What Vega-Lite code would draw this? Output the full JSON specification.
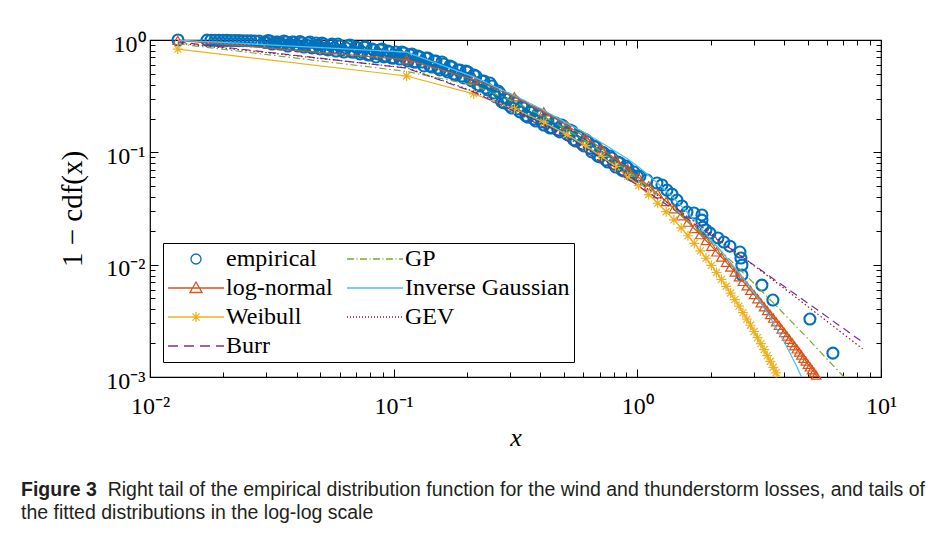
{
  "$schema": "https://vega.github.io/schema/vega-lite/v6.json",
  "width": 731,
  "height": 337,
  "autosize": {"type": "none"},
  "padding": {"left": 150, "top": 40, "right": 71, "bottom": 158},
  "background": "white",
  "title": {
    "text": "Figure 3",
    "subtitle": [
      "\u200b\u00a0\u00a0\u00a0\u00a0\u00a0\u00a0\u00a0\u00a0\u00a0\u00a0\u00a0\u00a0\u00a0\u00a0\u00a0\u00a0Right tail of the empirical distribution function for the wind and thunderstorm losses, and tails of",
      "the fitted distributions in the log-log scale"
    ],
    "orient": "bottom",
    "anchor": "start",
    "frame": "group",
    "dx": -129,
    "offset": 31,
    "font": "Liberation Sans",
    "fontSize": 19.5,
    "fontWeight": "bold",
    "color": "#231f20",
    "subtitleFont": "Liberation Sans",
    "subtitleFontSize": 19.5,
    "subtitleFontWeight": "normal",
    "subtitleColor": "#231f20",
    "subtitlePadding": -19.5,
    "subtitleLineHeight": 23
  },
  "datasets": {
    "emp": [
      {"x":0.01303,"y":1.0},
      {"x":0.01714,"y":0.997},{"x":0.0178,"y":0.996},{"x":0.01849,"y":0.995},{"x":0.0192,"y":0.994},{"x":0.01994,"y":0.993},{"x":0.0207,"y":0.992},{"x":0.0215,"y":0.99},{"x":0.02233,"y":0.989},{"x":0.02319,"y":0.988},{"x":0.02408,"y":0.986},{"x":0.02501,"y":0.985},{"x":0.02597,"y":0.983},{"x":0.02697,"y":0.981},{"x":0.02801,"y":0.979},
      {"x":0.02993,"y":0.95},{"x":0.03108,"y":0.98},{"x":0.03228,"y":0.94},{"x":0.03352,"y":0.96},{"x":0.03481,"y":0.921},{"x":0.03615,"y":0.96},{"x":0.03754,"y":0.921},{"x":0.03899,"y":0.96},{"x":0.04049,"y":0.884},{"x":0.04205,"y":0.94},
      {"x":0.04367,"y":0.903},{"x":0.04535,"y":0.96},{"x":0.0471,"y":0.866},{"x":0.04891,"y":0.903},{"x":0.05079,"y":0.94},{"x":0.05275,"y":0.832},{"x":0.05478,"y":0.903},{"x":0.05689,"y":0.849},{"x":0.05908,"y":0.921},{"x":0.06135,"y":0.815},
      {"x":0.06372,"y":0.849},{"x":0.06617,"y":0.903},{"x":0.06872,"y":0.782},{"x":0.07136,"y":0.849},{"x":0.07411,"y":0.782},{"x":0.07697,"y":0.866},{"x":0.07993,"y":0.736},{"x":0.08301,"y":0.815},{"x":0.08621,"y":0.751},{"x":0.08953,"y":0.832},
      {"x":0.09298,"y":0.72},{"x":0.09656,"y":0.782},{"x":0.10028,"y":0.691},{"x":0.10414,"y":0.736},{"x":0.10815,"y":0.782},{"x":0.11231,"y":0.677},{"x":0.11664,"y":0.736},{"x":0.12113,"y":0.637},{"x":0.12579,"y":0.72},{"x":0.13064,"y":0.637},
      {"x":0.13567,"y":0.691},{"x":0.14089,"y":0.587},{"x":0.14632,"y":0.65},{"x":0.15195,"y":0.563},{"x":0.1578,"y":0.637},{"x":0.16388,"y":0.541},{"x":0.17019,"y":0.587},{"x":0.17674,"y":0.498},{"x":0.18355,"y":0.541},{"x":0.19062,"y":0.478},
      {"x":0.19796,"y":0.53},{"x":0.20558,"y":0.459},{"x":0.2135,"y":0.488},{"x":0.22172,"y":0.398},{"x":0.23026,"y":0.432},{"x":0.23912,"y":0.374},{"x":0.24833,"y":0.414},{"x":0.25789,"y":0.337},{"x":0.26782,"y":0.352},{"x":0.27814,"y":0.281},
      {"x":0.28885,"y":0.298},{"x":0.29997,"y":0.258},{"x":0.31152,"y":0.286},{"x":0.32352,"y":0.243},{"x":0.33598,"y":0.258},{"x":0.34891,"y":0.211},{"x":0.36235,"y":0.229},{"x":0.3763,"y":0.198},{"x":0.39079,"y":0.219},{"x":0.40584,"y":0.186},
      {"x":0.42147,"y":0.198},{"x":0.4377,"y":0.165},{"x":0.45455,"y":0.182},{"x":0.47206,"y":0.158},{"x":0.49023,"y":0.175},{"x":0.50911,"y":0.149},{"x":0.52872,"y":0.158},{"x":0.54908,"y":0.129},{"x":0.57022,"y":0.14},{"x":0.59218,"y":0.119},
      {"x":0.61498,"y":0.129},{"x":0.63866,"y":0.109},{"x":0.66325,"y":0.114},{"x":0.68879,"y":0.0927},{"x":0.71532,"y":0.1007},{"x":0.74286,"y":0.0854},{"x":0.77147,"y":0.0927},{"x":0.80117,"y":0.0787},{"x":0.83202,"y":0.082},{"x":0.86406,"y":0.0696},
      {"x":0.89734,"y":0.0755},{"x":0.93189,"y":0.0641},{"x":0.96778,"y":0.0668},
      {"x":0.02937,"y":0.96},{"x":0.0305,"y":0.99},{"x":0.03167,"y":0.921},{"x":0.03289,"y":0.96},{"x":0.03416,"y":0.921},{"x":0.03547,"y":0.98},{"x":0.03684,"y":0.884},{"x":0.03826,"y":0.96},{"x":0.03973,"y":0.903},{"x":0.04126,"y":0.97},
      {"x":0.04285,"y":0.866},{"x":0.0445,"y":0.94},{"x":0.04622,"y":0.849},{"x":0.048,"y":0.94},{"x":0.04984,"y":0.832},{"x":0.05176,"y":0.921},{"x":0.05376,"y":0.815},{"x":0.05583,"y":0.921},{"x":0.05798,"y":0.798},{"x":0.06021,"y":0.884},
      {"x":0.06252,"y":0.782},{"x":0.06494,"y":0.884},{"x":0.06743,"y":0.782},{"x":0.07003,"y":0.866},{"x":0.07272,"y":0.751},{"x":0.07553,"y":0.866},{"x":0.07844,"y":0.736},{"x":0.08146,"y":0.832},{"x":0.08459,"y":0.706},{"x":0.08786,"y":0.815},
      {"x":0.09124,"y":0.706},{"x":0.09476,"y":0.798},{"x":0.0984,"y":0.691},{"x":0.10219,"y":0.782},{"x":0.10613,"y":0.677},{"x":0.11021,"y":0.766},{"x":0.11446,"y":0.65},{"x":0.11887,"y":0.751},{"x":0.12344,"y":0.637},{"x":0.12819,"y":0.706},
      {"x":0.13313,"y":0.587},{"x":0.13826,"y":0.691},{"x":0.14358,"y":0.575},{"x":0.14911,"y":0.65},{"x":0.15485,"y":0.541},{"x":0.16081,"y":0.611},{"x":0.167,"y":0.519},{"x":0.17343,"y":0.575},{"x":0.18011,"y":0.488},{"x":0.18705,"y":0.541},
      {"x":0.19425,"y":0.459},{"x":0.20173,"y":0.519},{"x":0.2095,"y":0.432},{"x":0.21757,"y":0.478},{"x":0.22595,"y":0.389},{"x":0.23465,"y":0.432},{"x":0.24368,"y":0.359},{"x":0.25306,"y":0.389},{"x":0.26281,"y":0.311},{"x":0.27292,"y":0.337},
      {"x":0.28344,"y":0.275},{"x":0.29431,"y":0.298},{"x":0.30569,"y":0.248},{"x":0.31746,"y":0.275},{"x":0.32969,"y":0.229},{"x":0.34238,"y":0.248},{"x":0.35556,"y":0.206},{"x":0.36926,"y":0.229},{"x":0.38348,"y":0.19},{"x":0.39824,"y":0.2106},
      {"x":0.41358,"y":0.175},{"x":0.42951,"y":0.194},{"x":0.44605,"y":0.165},{"x":0.46323,"y":0.182},{"x":0.48108,"y":0.152},{"x":0.5,"y":0.168},{"x":0.51882,"y":0.1427},{"x":0.53874,"y":0.155},{"x":0.55945,"y":0.126},{"x":0.58097,"y":0.137},
      {"x":0.60349,"y":0.114},{"x":0.62671,"y":0.1236},{"x":0.65083,"y":0.1007},{"x":0.67585,"y":0.1115},{"x":0.70193,"y":0.091},{"x":0.72895,"y":0.0986},{"x":0.75703,"y":0.082},{"x":0.78618,"y":0.089},{"x":0.81645,"y":0.074},{"x":0.84789,"y":0.0804},
      {"x":0.88054,"y":0.0682},{"x":0.91445,"y":0.0725},{"x":0.94966,"y":0.0627},{"x":1.0,"y":0.0615},
      {"x":1.0249,"y":0.0615},{"x":1.095,"y":0.0567},{"x":1.2035,"y":0.0533},{"x":1.2619,"y":0.0512},{"x":1.3228,"y":0.0461},{"x":1.387,"y":0.0425},{"x":1.4539,"y":0.0376},{"x":1.5241,"y":0.0333},{"x":1.598,"y":0.0294},{"x":1.708,"y":0.0288},
      {"x":1.8411,"y":0.0277},{"x":1.8411,"y":0.0249},{"x":1.8586,"y":0.0216},{"x":1.912,"y":0.02035},{"x":1.9863,"y":0.0191},{"x":2.1416,"y":0.0173},{"x":2.266,"y":0.0159},{"x":2.3988,"y":0.0146},{"x":2.6367,"y":0.01296},{"x":2.6618,"y":0.01145},
      {"x":2.6869,"y":0.0099},{"x":2.6869,"y":0.0081},{"x":3.2449,"y":0.00658},{"x":3.601,"y":0.00484},{"x":5.1079,"y":0.00328},{"x":6.3484,"y":0.00163}
    ],
    "lognormal": [
      {"x":0.013,"y":0.9919},{"x":0.113,"y":0.6689},{"x":0.213,"y":0.4446},{"x":0.313,"y":0.3124},{"x":0.413,"y":0.2292},{"x":0.513,"y":0.1741},{"x":0.613,"y":0.1357},{"x":0.713,"y":0.108},{"x":0.813,"y":0.0874},{"x":0.913,"y":0.0718},
      {"x":1.013,"y":0.0598},{"x":1.113,"y":0.0503},{"x":1.213,"y":0.0427},{"x":1.313,"y":0.0365},{"x":1.413,"y":0.0315},{"x":1.513,"y":0.0273},{"x":1.613,"y":0.0239},{"x":1.713,"y":0.021},{"x":1.813,"y":0.0185},{"x":1.913,"y":0.0164},
      {"x":2.013,"y":0.0146},{"x":2.113,"y":0.013},{"x":2.213,"y":0.0117},{"x":2.313,"y":0.01052},{"x":2.413,"y":0.00953},{"x":2.513,"y":0.0086},{"x":2.613,"y":0.0078},{"x":2.713,"y":0.0071},{"x":2.813,"y":0.00648},{"x":2.913,"y":0.00592},
      {"x":3.013,"y":0.00542},{"x":3.113,"y":0.00498},{"x":3.213,"y":0.00458},{"x":3.313,"y":0.00422},{"x":3.413,"y":0.0039},{"x":3.513,"y":0.0036},{"x":3.613,"y":0.00334},{"x":3.713,"y":0.0031},{"x":3.813,"y":0.00288},{"x":3.913,"y":0.00267},
      {"x":4.013,"y":0.00249},{"x":4.113,"y":0.00232},{"x":4.213,"y":0.00217},{"x":4.313,"y":0.00203},{"x":4.413,"y":0.0019},{"x":4.513,"y":0.00178},{"x":4.613,"y":0.00167},{"x":4.713,"y":0.00157},{"x":4.813,"y":0.00147},{"x":4.913,"y":0.00139},
      {"x":5.013,"y":0.0013},{"x":5.113,"y":0.00123},{"x":5.213,"y":0.00116},{"x":5.313,"y":0.0011},{"x":5.413,"y":0.00104},{"x":5.513,"y":0.00098},{"x":5.613,"y":0.00093}
    ],
    "weibull": [
      {"x":0.013,"y":0.8302},{"x":0.113,"y":0.4782},{"x":0.213,"y":0.3313},{"x":0.313,"y":0.2437},{"x":0.413,"y":0.1855},{"x":0.513,"y":0.1445},{"x":0.613,"y":0.1146},{"x":0.713,"y":0.092},{"x":0.813,"y":0.0748},{"x":0.913,"y":0.0613},
      {"x":1.013,"y":0.0506},{"x":1.113,"y":0.0421},{"x":1.213,"y":0.03522},{"x":1.313,"y":0.02961},{"x":1.413,"y":0.02502},{"x":1.513,"y":0.02123},{"x":1.613,"y":0.01809},{"x":1.713,"y":0.01546},{"x":1.813,"y":0.01326},{"x":1.913,"y":0.01141},
      {"x":2.013,"y":0.00985},{"x":2.113,"y":0.00852},{"x":2.213,"y":0.00739},{"x":2.313,"y":0.00642},{"x":2.413,"y":0.00559},{"x":2.513,"y":0.00488},{"x":2.613,"y":0.00427},{"x":2.713,"y":0.00374},{"x":2.813,"y":0.00328},{"x":2.913,"y":0.00289},
      {"x":3.013,"y":0.00254},{"x":3.113,"y":0.00224},{"x":3.213,"y":0.00198},{"x":3.313,"y":0.00175},{"x":3.413,"y":0.00155},{"x":3.513,"y":0.00138},{"x":3.613,"y":0.00122},{"x":3.713,"y":0.00109},{"x":3.813,"y":0.000967},{"x":3.913,"y":0.000861}
    ],
    "burr": [
      {"x":0.013,"y":0.9609},{"x":0.113,"y":0.5619},{"x":0.213,"y":0.344},{"x":0.313,"y":0.2315},{"x":0.413,"y":0.1673},{"x":0.513,"y":0.1273},{"x":0.713,"y":0.082},{"x":0.913,"y":0.0581},{"x":1.213,"y":0.0386},{"x":1.513,"y":0.02787},
      {"x":1.813,"y":0.02129},{"x":2.113,"y":0.01692},{"x":2.413,"y":0.01384},{"x":2.713,"y":0.01159},{"x":3.013,"y":0.00988},{"x":3.513,"y":0.00782},{"x":4.013,"y":0.00638},{"x":4.513,"y":0.00533},{"x":5.013,"y":0.00453},{"x":5.513,"y":0.00392},
      {"x":6.013,"y":0.00343},{"x":6.513,"y":0.00303},{"x":7.013,"y":0.00271},{"x":7.513,"y":0.00243},{"x":8.013,"y":0.0022},{"x":8.413,"y":0.00204}
    ],
    "gp": [
      {"x":0.013,"y":0.925},{"x":0.113,"y":0.525},{"x":0.213,"y":0.3953},{"x":0.313,"y":0.2815},{"x":0.413,"y":0.2088},{"x":0.513,"y":0.1598},{"x":0.613,"y":0.1256},{"x":0.713,"y":0.1008},{"x":0.813,"y":0.0823},{"x":0.913,"y":0.0683},
      {"x":1.013,"y":0.0574},{"x":1.213,"y":0.0418},{"x":1.413,"y":0.0316},{"x":1.613,"y":0.02458},{"x":1.813,"y":0.01956},{"x":2.013,"y":0.01586},{"x":2.213,"y":0.01307},{"x":2.413,"y":0.01092},{"x":2.613,"y":0.00924},{"x":3.013,"y":0.00681},
      {"x":3.513,"y":0.00487},{"x":4.013,"y":0.00362},{"x":4.513,"y":0.00278},{"x":5.013,"y":0.00219},{"x":5.513,"y":0.00176},{"x":6.013,"y":0.00144},{"x":6.513,"y":0.0012},{"x":7.013,"y":0.00101},{"x":7.113,"y":0.000975}
    ],
    "ig": [
      {"x":0.013,"y":0.999},{"x":0.113,"y":0.78},{"x":0.213,"y":0.47},{"x":0.313,"y":0.32},{"x":0.413,"y":0.237},{"x":0.513,"y":0.182},{"x":0.613,"y":0.148},{"x":0.713,"y":0.1216},{"x":0.913,"y":0.0871},{"x":1.013,"y":0.0741},
      {"x":1.213,"y":0.0531},{"x":1.413,"y":0.0389},{"x":1.613,"y":0.0288},{"x":1.813,"y":0.0216},{"x":2.013,"y":0.0164},{"x":2.213,"y":0.0132},{"x":2.413,"y":0.01035},{"x":2.613,"y":0.0085},{"x":3.013,"y":0.00562},{"x":3.513,"y":0.00339},
      {"x":4.013,"y":0.00204},{"x":4.513,"y":0.00124},{"x":4.813,"y":0.00091}
    ],
    "gev": [
      {"x":0.013,"y":0.9403},{"x":0.113,"y":0.565},{"x":0.213,"y":0.3493},{"x":0.313,"y":0.2419},{"x":0.413,"y":0.1778},{"x":0.513,"y":0.1367},{"x":0.713,"y":0.0887},{"x":0.913,"y":0.0626},{"x":1.213,"y":0.0412},{"x":1.513,"y":0.0294},
      {"x":1.813,"y":0.02216},{"x":2.113,"y":0.01739},{"x":2.413,"y":0.01405},{"x":2.713,"y":0.01162},{"x":3.013,"y":0.0098},{"x":3.513,"y":0.00762},{"x":4.013,"y":0.00612},{"x":4.513,"y":0.00504},{"x":5.013,"y":0.00423},{"x":5.513,"y":0.00361},
      {"x":6.013,"y":0.00312},{"x":6.513,"y":0.00273},{"x":7.013,"y":0.00241},{"x":7.513,"y":0.00215},{"x":8.013,"y":0.00193},{"x":8.413,"y":0.00178}
    ]
  },
  "layer": [
    {
      "data": {"name": "emp"},
      "mark": {"type": "point", "filled": false, "size": 484, "strokeWidth": 2.1, "opacity": 1},
      "encoding": {
        "x": {"field": "x", "type": "quantitative", "scale": {"type": "log", "domain": [0.01, 10], "nice": false},
          "axis": {"orient": "bottom",
            "values": [0.01,0.02,0.03,0.04,0.05,0.06,0.07,0.08,0.09,0.1,0.2,0.3,0.4,0.5,0.6,0.7,0.8,0.9,1,2,3,4,5,6,7,8,9,10],
            "labelExpr": "datum.value == 0.01 ? '10⁻²' : datum.value == 0.1 ? '10⁻¹' : datum.value == 1 ? '10⁰' : datum.value == 10 ? '10¹' : ''",
            "labelFont": "Liberation Serif", "labelFontSize": 24, "labelColor": "black",
            "labelFlush": false, "labelOverlap": false, "labelPadding": 25,
            "tickSize": {"condition": {"test": "datum.value == 0.01 || datum.value == 0.1 || datum.value == 1 || datum.value == 10", "value": -8}, "value": -5},
            "tickColor": "black", "tickWidth": 1, "domain": false, "grid": false,
            "title": "x", "titleFont": "Liberation Serif", "titleFontStyle": "italic", "titleFontWeight": "normal", "titleFontSize": 26, "titleColor": "black", "titlePadding": 3}},
        "y": {"field": "y", "type": "quantitative", "scale": {"type": "log", "domain": [0.001, 1], "nice": false},
          "axis": {"orient": "left",
            "values": [0.001,0.002,0.003,0.004,0.005,0.006,0.007,0.008,0.009,0.01,0.02,0.03,0.04,0.05,0.06,0.07,0.08,0.09,0.1,0.2,0.3,0.4,0.5,0.6,0.7,0.8,0.9,1],
            "labelExpr": "datum.value == 0.001 ? '10⁻³' : datum.value == 0.01 ? '10⁻²' : datum.value == 0.1 ? '10⁻¹' : datum.value == 1 ? '10⁰' : ''",
            "labelFont": "Liberation Serif", "labelFontSize": 24, "labelColor": "black",
            "labelFlush": false, "labelOverlap": false, "labelPadding": 13, "labelOffset": 4,
            "tickSize": {"condition": {"test": "datum.value == 0.001 || datum.value == 0.01 || datum.value == 0.1 || datum.value == 1", "value": -8}, "value": -5},
            "tickColor": "black", "tickWidth": 1, "domain": false, "grid": false,
            "title": "1 − cdf(x)", "titleFont": "Liberation Serif", "titleFontWeight": "normal", "titleFontSize": 29, "titleColor": "black", "titlePadding": 18}},
        "color": {"datum": "empirical", "type": "nominal",
          "scale": {"domain": ["empirical", "log-normal", "Weibull", "Burr", "GP", "Inverse Gaussian", "GEV"],
                    "range": ["#0072BD", "#D95319", "#EDB120", "#7E2F8E", "#77AC30", "#4DBEEE", "#A2142F"]},
          "legend": {"orient": "none", "legendX": 13, "legendY": 203, "columns": 2, "title": null,
            "symbolSize": 400, "symbolStrokeWidth": 1.3, "symbolOffset": 17, "labelOffset": 18,
            "labelFont": "Liberation Serif", "labelFontSize": 24, "labelColor": "black", "labelLimit": 400,
            "strokeColor": "black", "fillColor": "white", "padding": 4, "rowPadding": 5, "columnPadding": 11}},
        "shape": {"datum": "empirical", "type": "nominal",
          "scale": {"domain": ["empirical", "log-normal", "Weibull", "Burr", "GP", "Inverse Gaussian", "GEV"],
                    "range": [
                      "M0.5,0A0.5,0.5,0,1,1,-0.5,0A0.5,0.5,0,1,1,0.5,0Z",
                      "M-2.8,0H2.8M0,-0.6L0.6,0.45L-0.6,0.45Z",
                      "M-2.8,0H2.8M0,-0.5V0.5M-0.5,0H0.5M-0.36,-0.36L0.36,0.36M-0.36,0.36L0.36,-0.36",
                      "M-2.8,0H-1.8M-1.2,0H-0.2M0.4,0H1.4M2,0H2.8",
                      "M-2.8,0H-2.1M-1.85,0H-1.75M-1.5,0H-0.8M-0.55,0H-0.45M-0.2,0H0.5M0.75,0H0.85M1.1,0H1.8M2.05,0H2.15M2.4,0H2.8",
                      "M-2.8,0H2.8",
                      "M-2.8,0h0.1m0.2,0h0.1m0.2,0h0.1m0.2,0h0.1m0.2,0h0.1m0.2,0h0.1m0.2,0h0.1m0.2,0h0.1m0.2,0h0.1m0.2,0h0.1m0.2,0h0.1m0.2,0h0.1m0.2,0h0.1m0.2,0h0.1m0.2,0h0.1m0.2,0h0.1m0.2,0h0.1m0.2,0h0.1m0.2,0h0.1"
                    ]}}
      }
    },
    {
      "data": {"name": "lognormal"},
      "mark": {"type": "line", "clip": true, "color": "#D95319", "strokeWidth": 1.2},
      "encoding": {
        "x": {"field": "x", "type": "quantitative", "scale": {"type": "log", "domain": [0.01, 10], "nice": false},
          "axis": {"orient": "top",
            "values": [0.01,0.02,0.03,0.04,0.05,0.06,0.07,0.08,0.09,0.1,0.2,0.3,0.4,0.5,0.6,0.7,0.8,0.9,1,2,3,4,5,6,7,8,9,10],
            "labels": false,
            "tickSize": {"condition": {"test": "datum.value == 0.01 || datum.value == 0.1 || datum.value == 1 || datum.value == 10", "value": -8}, "value": -5},
            "tickColor": "black", "tickWidth": 1, "domain": false, "grid": false, "title": null}},
        "y": {"field": "y", "type": "quantitative", "scale": {"type": "log", "domain": [0.001, 1], "nice": false},
          "axis": {"orient": "right",
            "values": [0.001,0.002,0.003,0.004,0.005,0.006,0.007,0.008,0.009,0.01,0.02,0.03,0.04,0.05,0.06,0.07,0.08,0.09,0.1,0.2,0.3,0.4,0.5,0.6,0.7,0.8,0.9,1],
            "labels": false,
            "tickSize": {"condition": {"test": "datum.value == 0.001 || datum.value == 0.01 || datum.value == 0.1 || datum.value == 1", "value": -8}, "value": -5},
            "tickColor": "black", "tickWidth": 1, "domain": false, "grid": false, "title": null}}
      }
    },
    {
      "data": {"name": "lognormal"},
      "transform": [{"filter": "datum.y >= 0.001"}],
      "mark": {"type": "point", "shape": "triangle-up", "filled": false, "color": "#D95319", "size": 90, "strokeWidth": 1.2, "opacity": 1},
      "encoding": {
        "x": {"field": "x", "type": "quantitative", "scale": {"type": "log", "domain": [0.01, 10], "nice": false}, "axis": null},
        "y": {"field": "y", "type": "quantitative", "scale": {"type": "log", "domain": [0.001, 1], "nice": false}, "axis": null}
      }
    },
    {
      "data": {"name": "weibull"},
      "mark": {"type": "line", "clip": true, "color": "#EDB120", "strokeWidth": 1.2},
      "encoding": {
        "x": {"field": "x", "type": "quantitative", "scale": {"type": "log", "domain": [0.01, 10], "nice": false}, "axis": null},
        "y": {"field": "y", "type": "quantitative", "scale": {"type": "log", "domain": [0.001, 1], "nice": false}, "axis": null}
      }
    },
    {
      "data": {"name": "weibull"},
      "transform": [{"filter": "datum.y >= 0.001"}],
      "mark": {"type": "point", "shape": "M0,-1V1M-1,0H1M-0.7,-0.7L0.7,0.7M-0.7,0.7L0.7,-0.7", "filled": false, "color": "#EDB120", "size": 100, "strokeWidth": 1.2, "opacity": 1},
      "encoding": {
        "x": {"field": "x", "type": "quantitative", "scale": {"type": "log", "domain": [0.01, 10], "nice": false}, "axis": null},
        "y": {"field": "y", "type": "quantitative", "scale": {"type": "log", "domain": [0.001, 1], "nice": false}, "axis": null}
      }
    },
    {
      "data": {"name": "burr"},
      "mark": {"type": "line", "clip": true, "color": "#7E2F8E", "strokeWidth": 1.2, "strokeDash": [8, 5]},
      "encoding": {
        "x": {"field": "x", "type": "quantitative", "scale": {"type": "log", "domain": [0.01, 10], "nice": false}, "axis": null},
        "y": {"field": "y", "type": "quantitative", "scale": {"type": "log", "domain": [0.001, 1], "nice": false}, "axis": null}
      }
    },
    {
      "data": {"name": "gp"},
      "mark": {"type": "line", "clip": true, "color": "#77AC30", "strokeWidth": 1.2, "strokeDash": [7, 3, 1.5, 3]},
      "encoding": {
        "x": {"field": "x", "type": "quantitative", "scale": {"type": "log", "domain": [0.01, 10], "nice": false}, "axis": null},
        "y": {"field": "y", "type": "quantitative", "scale": {"type": "log", "domain": [0.001, 1], "nice": false}, "axis": null}
      }
    },
    {
      "data": {"name": "ig"},
      "mark": {"type": "line", "clip": true, "color": "#4DBEEE", "strokeWidth": 1.2},
      "encoding": {
        "x": {"field": "x", "type": "quantitative", "scale": {"type": "log", "domain": [0.01, 10], "nice": false}, "axis": null},
        "y": {"field": "y", "type": "quantitative", "scale": {"type": "log", "domain": [0.001, 1], "nice": false}, "axis": null}
      }
    },
    {
      "data": {"name": "gev"},
      "mark": {"type": "line", "clip": true, "color": "#A2142F", "strokeWidth": 1.2, "strokeDash": [1.5, 2.5]},
      "encoding": {
        "x": {"field": "x", "type": "quantitative", "scale": {"type": "log", "domain": [0.01, 10], "nice": false}, "axis": null},
        "y": {"field": "y", "type": "quantitative", "scale": {"type": "log", "domain": [0.001, 1], "nice": false}, "axis": null}
      }
    }
  ],
  "resolve": {"axis": {"x": "independent", "y": "independent"}},
  "config": {
    "view": {"stroke": "black", "strokeWidth": 1.2},
    "axis": {"labelColor": "black", "tickColor": "black"}
  }
}
